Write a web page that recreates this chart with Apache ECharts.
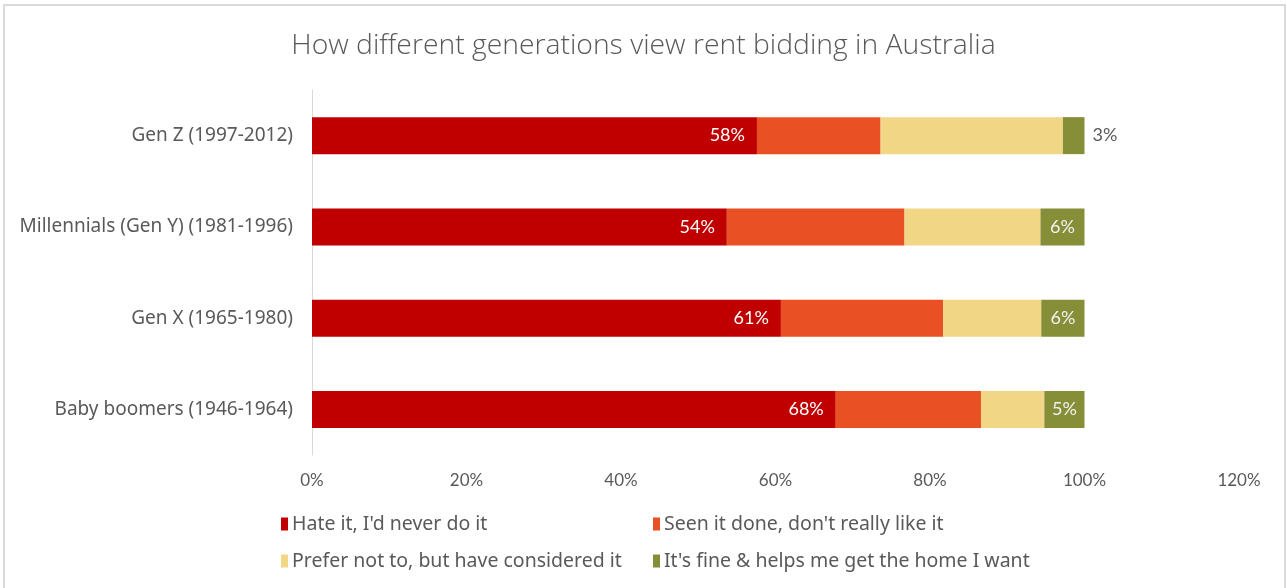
<!DOCTYPE html>
<html>
<head>
<meta charset="utf-8">
<script src="https://cdn.jsdelivr.net/npm/echarts@6/dist/echarts.min.js"></script>
<style>
  html, body { margin: 0; padding: 0; background: #fff; }
  #chart { width: 1287px; height: 588px; }
</style>
</head>
<body>
<div id="chart"></div>
<script>
// 年代分组（从上到下）
const generations = [
  "Gen Z (1997-2012)",
  "Millennials (Gen Y) (1981-1996)",
  "Gen X (1965-1980)",
  "Baby boomers (1946-1964)"
];

// 各系列百分比（按图中长度估读）
const hateIt = [57.6, 53.7, 60.7, 67.8];
const seenIt = [16.0, 23.0, 21.0, 18.8];
const preferNot = [23.6, 17.6, 12.7, 8.2];
const itsFine = [2.8, 5.7, 5.6, 5.2];

const seriesNames = [
  "Hate it, I'd never do it",
  "Seen it done, don't really like it",
  "Prefer not to, but have considered it",
  "It's fine & helps me get the home I want"
];
const colors = ["#C00000", "#E95125", "#F1D686", "#878E38"];

const xTicks = [0, 20, 40, 60, 80, 100, 120];

const chart = echarts.init(document.getElementById("chart"));

const textColor = "#595959";
const font = "Lato, 'Noto Sans', sans-serif";
const wideFont = "'Noto Sans', sans-serif";

// 每个图例单独放置，排成两行两列
const legendPos = [
  { left: 281, top: 514 },
  { left: 653, top: 514 },
  { left: 281, top: 551 },
  { left: 653, top: 551 }
];

const fmt = (p) => Math.round(p.value) + "%";

const option = {
  animation: false,
  title: {
    text: "How different generations view rent bidding in Australia",
    left: "center",
    top: 27,
    textStyle: {
      fontFamily: "'Open Sans', sans-serif",
      fontWeight: 300,
      fontSize: 28.3,
      color: textColor
    }
  },
  legend: seriesNames.map((name, i) => ({
    data: [name],
    left: legendPos[i].left,
    top: legendPos[i].top,
    padding: 0,
    itemWidth: 7,
    itemHeight: 13,
    itemGap: 4,
    icon: "rect",
    textStyle: { fontFamily: wideFont, fontSize: 19.5, color: textColor, padding: [0, 0, 0, -1] }
  })),
  grid: {
    left: 312,
    right: 48,
    top: 90,
    bottom: 133,
    containLabel: false
  },
  xAxis: {
    type: "value",
    min: 0,
    max: 120,
    interval: 20,
    axisLine: { show: false },
    axisTick: { show: false },
    splitLine: { show: false },
    axisLabel: {
      formatter: (v) => (xTicks.includes(v) ? v + "%" : ""),
      fontFamily: font,
      fontSize: 17,
      color: textColor,
      margin: 17
    }
  },
  yAxis: {
    type: "category",
    inverse: true,
    data: generations,
    axisLine: { show: true, lineStyle: { color: "#D9D9D9", width: 1 } },
    axisTick: { show: false },
    axisLabel: {
      fontFamily: wideFont,
      fontSize: 19,
      color: textColor,
      margin: 19
    }
  },
  series: [
    {
      name: seriesNames[0],
      type: "bar",
      stack: "all",
      barWidth: 37,
      data: hateIt,
      itemStyle: { color: colors[0] },
      label: {
        show: true,
        position: "insideRight",
        distance: 12,
        formatter: fmt,
        color: "#FFFFFF",
        fontFamily: font,
        fontSize: 18
      }
    },
    {
      name: seriesNames[1],
      type: "bar",
      stack: "all",
      data: seenIt,
      itemStyle: { color: colors[1] }
    },
    {
      name: seriesNames[2],
      type: "bar",
      stack: "all",
      data: preferNot,
      itemStyle: { color: colors[2] }
    },
    {
      name: seriesNames[3],
      type: "bar",
      stack: "all",
      data: itsFine.map((v, i) =>
        i === 0
          ? { value: v, label: { position: "right", distance: 8, color: textColor } }
          : v
      ),
      itemStyle: { color: colors[3] },
      label: {
        show: true,
        position: "inside",
        formatter: fmt,
        color: "#F2F2F2",
        fontFamily: font,
        fontSize: 18
      }
    }
  ],
  graphic: [
    {
      type: "rect",
      shape: { x: 4, y: 5, width: 1281, height: 590 },
      style: { fill: "none", stroke: "#D9D9D9", lineWidth: 2 },
      silent: true
    }
  ]
};

chart.setOption(option);
</script>
</body>
</html>
